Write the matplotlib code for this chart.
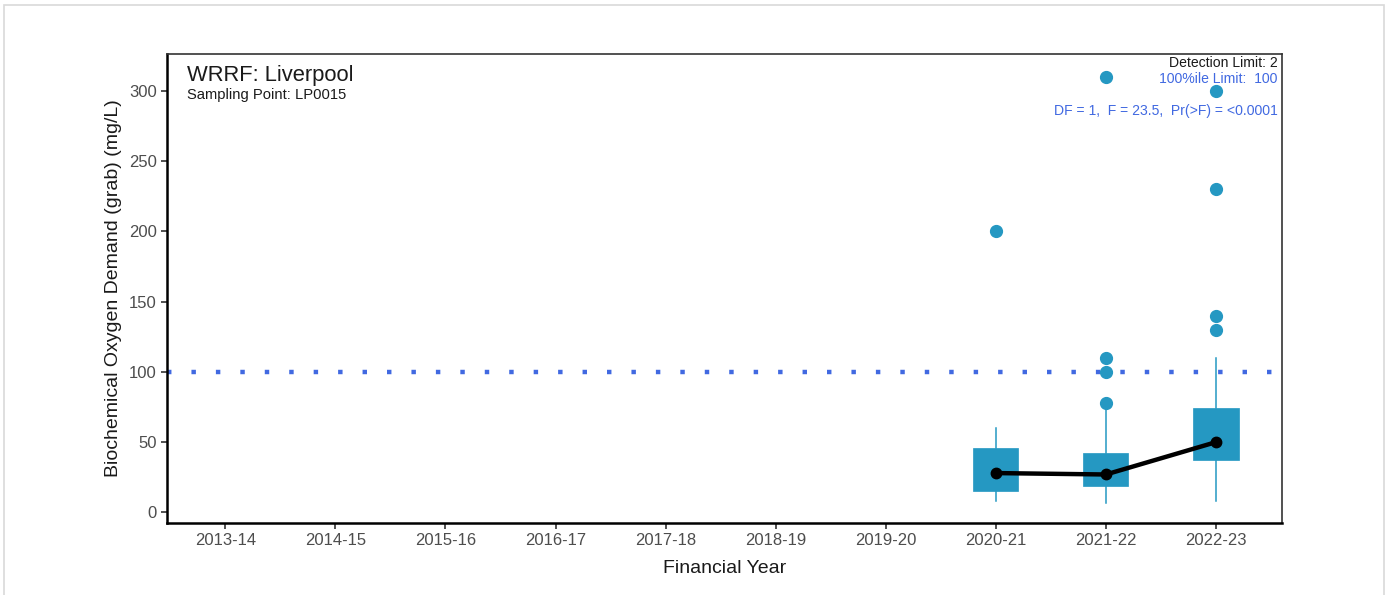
import matplotlib
matplotlib.use("Agg")
import matplotlib.pyplot as plt
from matplotlib.patches import Rectangle

plt.rcParams['font.family'] = ['Liberation Sans', 'DejaVu Sans']

years = ['2013-14', '2014-15', '2015-16', '2016-17', '2017-18',
         '2018-19', '2019-20', '2020-21', '2021-22', '2022-23']

# box summaries for the years that have samples
box_years = ['2020-21', '2021-22', '2022-23']
q1 = [15.5, 19, 37]
q3 = [46, 42.5, 74]
whisk_lo = [8, 7, 8]
whisk_hi = [60, 75, 110]
centre = [28, 27, 50]
outliers = [[200], [78, 100, 110, 310], [130, 140, 230, 300]]

limit_100 = 100
detection_limit = 2

box_col = '#2598c2'
limit_col = '#4169e1'

fig = plt.figure(figsize=(13.9, 5.95), dpi=100)
ax = fig.add_axes([167 / 1390, 1 - 523 / 595, (1282 - 167) / 1390, (523 - 54) / 595])

# outer frame around the whole figure
fig.patches.append(Rectangle((4 / 1390, -0.1), 1380 / 1390, 1.1 - 5 / 595,
                             transform=fig.transFigure, fill=False,
                             edgecolor='#d9d9d9', lw=1.2))

pos = [years.index(y) + 1 for y in box_years]
stats = []
for i in range(len(box_years)):
    stats.append({'q1': q1[i], 'q3': q3[i], 'med': centre[i],
                  'whislo': whisk_lo[i], 'whishi': whisk_hi[i],
                  'fliers': outliers[i]})

ax.axhline(limit_100, color=limit_col, lw=3.2, ls=(0, (1, 4.5)), zorder=1)

ax.bxp(stats, positions=pos, widths=0.41, patch_artist=True, showcaps=False,
       boxprops=dict(facecolor=box_col, edgecolor=box_col, lw=0.5),
       whiskerprops=dict(color=box_col, lw=1.1),
       medianprops=dict(lw=0),
       flierprops=dict(marker='o', markerfacecolor=box_col,
                       markeredgecolor=box_col, markersize=8.5),
       zorder=2)

ax.plot(pos, centre, color='black', lw=3.2, marker='o', markersize=7.5, zorder=4)

ax.set_xlim(0.47, 10.6)
ax.set_ylim(-7.5, 326)
ax.set_xticks(range(1, len(years) + 1))
ax.set_xticklabels(years)
ax.set_yticks([0, 50, 100, 150, 200, 250, 300])

ax.tick_params(axis='both', colors='#333333', labelcolor='#4d4d4d',
               labelsize=12, length=4, width=1.2)
for s in ['left', 'bottom']:
    ax.spines[s].set_linewidth(1.8)
    ax.spines[s].set_color('black')
for s in ['top', 'right']:
    ax.spines[s].set_linewidth(1.2)
    ax.spines[s].set_color('#333333')

ax.set_xlabel('Financial Year', fontsize=14, color='#1a1a1a', labelpad=8)
ax.set_ylabel('Biochemical Oxygen Demand (grab) (mg/L)', fontsize=14,
              color='#1a1a1a', labelpad=5)

ax.text(0.018, 0.955, 'WRRF: Liverpool', transform=ax.transAxes,
        fontsize=15.8, va='center', ha='left', color='#1a1a1a')
ax.text(0.018, 0.913, 'Sampling Point: LP0015', transform=ax.transAxes,
        fontsize=10.6, va='center', ha='left', color='#1a1a1a')

ax.text(0.996, 0.981, 'Detection Limit: %d' % detection_limit,
        transform=ax.transAxes, fontsize=10.1, va='center', ha='right', color='#1a1a1a')
ax.text(0.996, 0.947, '100%%ile Limit:  %d' % limit_100,
        transform=ax.transAxes, fontsize=10.1, va='center', ha='right', color=limit_col)
ax.text(0.996, 0.878, 'DF = 1,  F = 23.5,  Pr(>F) = <0.0001',
        transform=ax.transAxes, fontsize=10.1, va='center', ha='right', color=limit_col)

plt.savefig('out.png', dpi=100)
